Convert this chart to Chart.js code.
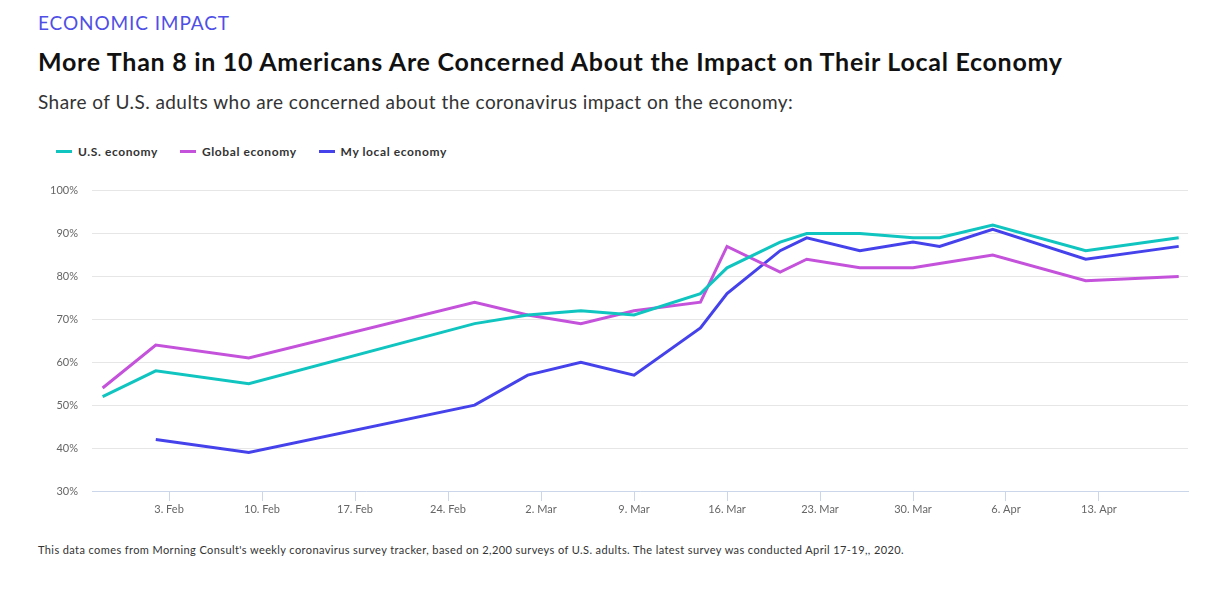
<!DOCTYPE html>
<html>
<head>
<meta charset="utf-8">
<script src="https://cdn.jsdelivr.net/npm/chart.js@4.4.1/dist/chart.umd.min.js"></script>
<style>
  html, body { margin: 0; padding: 0; background: #fff; }
  body { width: 1215px; height: 589px; position: relative; overflow: hidden; font-family: Lato, "Open Sans", sans-serif; }
  #kicker { position: absolute; left: 38px; top: 11px; font-size: 19px; color: #4f4fe6; letter-spacing: 0.9px; font-weight: 400; }
  #title { position: absolute; left: 38px; top: 46px; font-size: 25px; font-weight: 700; color: #111; letter-spacing: 0.72px; white-space: nowrap; }
  #subtitle { position: absolute; left: 38px; top: 90px; font-size: 19px; color: #333; letter-spacing: 0.45px; white-space: nowrap; }
  #legend { position: absolute; left: 56px; top: 144px; display: flex; font-size: 12px; font-weight: 700; color: #333; letter-spacing: 0.6px; }
  .li { display: flex; align-items: center; margin-right: 22px; }
  .sw { width: 16px; height: 3px; margin-right: 6px; }
  #wrap { position: absolute; left: 0; top: 170px; width: 1215px; height: 360px; }
  #note { position: absolute; left: 38px; top: 543px; font-size: 11px; color: #333; letter-spacing: 0.4px; white-space: nowrap; }
</style>
</head>
<body>
<div id="kicker">ECONOMIC IMPACT</div>
<div id="title">More Than 8 in 10 Americans Are Concerned About the Impact on Their Local Economy</div>
<div id="subtitle">Share of U.S. adults who are concerned about the coronavirus impact on the economy:</div>
<div id="legend"></div>
<div id="wrap"><canvas id="c"></canvas></div>
<div id="note">This data comes from Morning Consult's weekly coronavirus survey tracker, based on 2,200 surveys of U.S. adults. The latest survey was conducted April 17-19,, 2020.</div>
<script>
// Survey dates as day offsets from 3 Feb 2020
const surveyDays = [-5, -1, 6, 23, 27, 31, 35, 40, 42, 46, 48, 52, 56, 58, 62, 69, 76];
const usEconomy     = [52, 58, 55, 69, 71, 72, 71, 76, 82, 88, 90, 90, 89, 89, 92, 86, 89];
const globalEconomy = [54, 64, 61, 74, 71, 69, 72, 74, 87, 81, 84, 82, 82, 83, 85, 79, 80];
const localEconomy  = [null, 42, 39, 50, 57, 60, 57, 68, 76, 86, 89, 86, 88, 87, 91, 84, 87];
const tickDays   = [0, 7, 14, 21, 28, 35, 42, 49, 56, 63, 70];
const tickLabels = ["3. Feb", "10. Feb", "17. Feb", "24. Feb", "2. Mar", "9. Mar", "16. Mar", "23. Mar", "30. Mar", "6. Apr", "13. Apr"];
const seriesNames = ["U.S. economy", "Global economy", "My local economy"];
const seriesColors = ["#10c4c0", "#c452db", "#4542ec"];
const seriesData = [usEconomy, globalEconomy, localEconomy];

const legend = document.getElementById('legend');
seriesNames.forEach((n, i) => {
  const d = document.createElement('div'); d.className = 'li';
  const s = document.createElement('span'); s.className = 'sw'; s.style.background = seriesColors[i];
  const t = document.createElement('span'); t.textContent = n;
  d.appendChild(s); d.appendChild(t); legend.appendChild(d);
});

const datasets = seriesData.map((vals, i) => ({
  label: seriesNames[i],
  data: surveyDays.map((d, j) => ({ x: d, y: vals[j] })),
  borderColor: seriesColors[i],
  backgroundColor: seriesColors[i],
  borderWidth: 3,
  pointRadius: 0,
  tension: 0,
  spanGaps: false
}));

new Chart(document.getElementById('c'), {
  type: 'line',
  data: { datasets },
  options: {
    responsive: true,
    maintainAspectRatio: false,
    animation: false,
    layout: { padding: { top: 18, right: 27, left: 0, bottom: 0 } },
    plugins: { legend: { display: false }, tooltip: { enabled: false } },
    scales: {
      x: {
        type: 'linear',
        min: -5.8,
        max: 76.7,
        afterBuildTicks: (s) => { s.ticks = tickDays.map(v => ({ value: v })); },
        afterFit: (s) => { s.height = 39; },
        ticks: {
          autoSkip: false,
          maxRotation: 0,
          padding: 2,
          color: '#666',
          font: { size: 11, family: 'Lato, "Open Sans", sans-serif' },
          callback: (v) => { const k = tickDays.indexOf(v); return k >= 0 ? tickLabels[k] : ''; }
        },
        grid: { drawOnChartArea: false, drawTicks: true, tickLength: 10, color: '#ccd6eb' },
        border: { display: true, color: '#ccd6eb', width: 1 }
      },
      y: {
        min: 30,
        max: 100,
        afterFit: (s) => { s.width = 92; },
        ticks: {
          stepSize: 10,
          padding: 14,
          color: '#666',
          font: { size: 11, family: 'Lato, "Open Sans", sans-serif' },
          callback: (v) => v + '%'
        },
        grid: { color: '#e6e6e6', drawTicks: false },
        border: { display: false }
      }
    }
  }
});
</script>
</body>
</html>
